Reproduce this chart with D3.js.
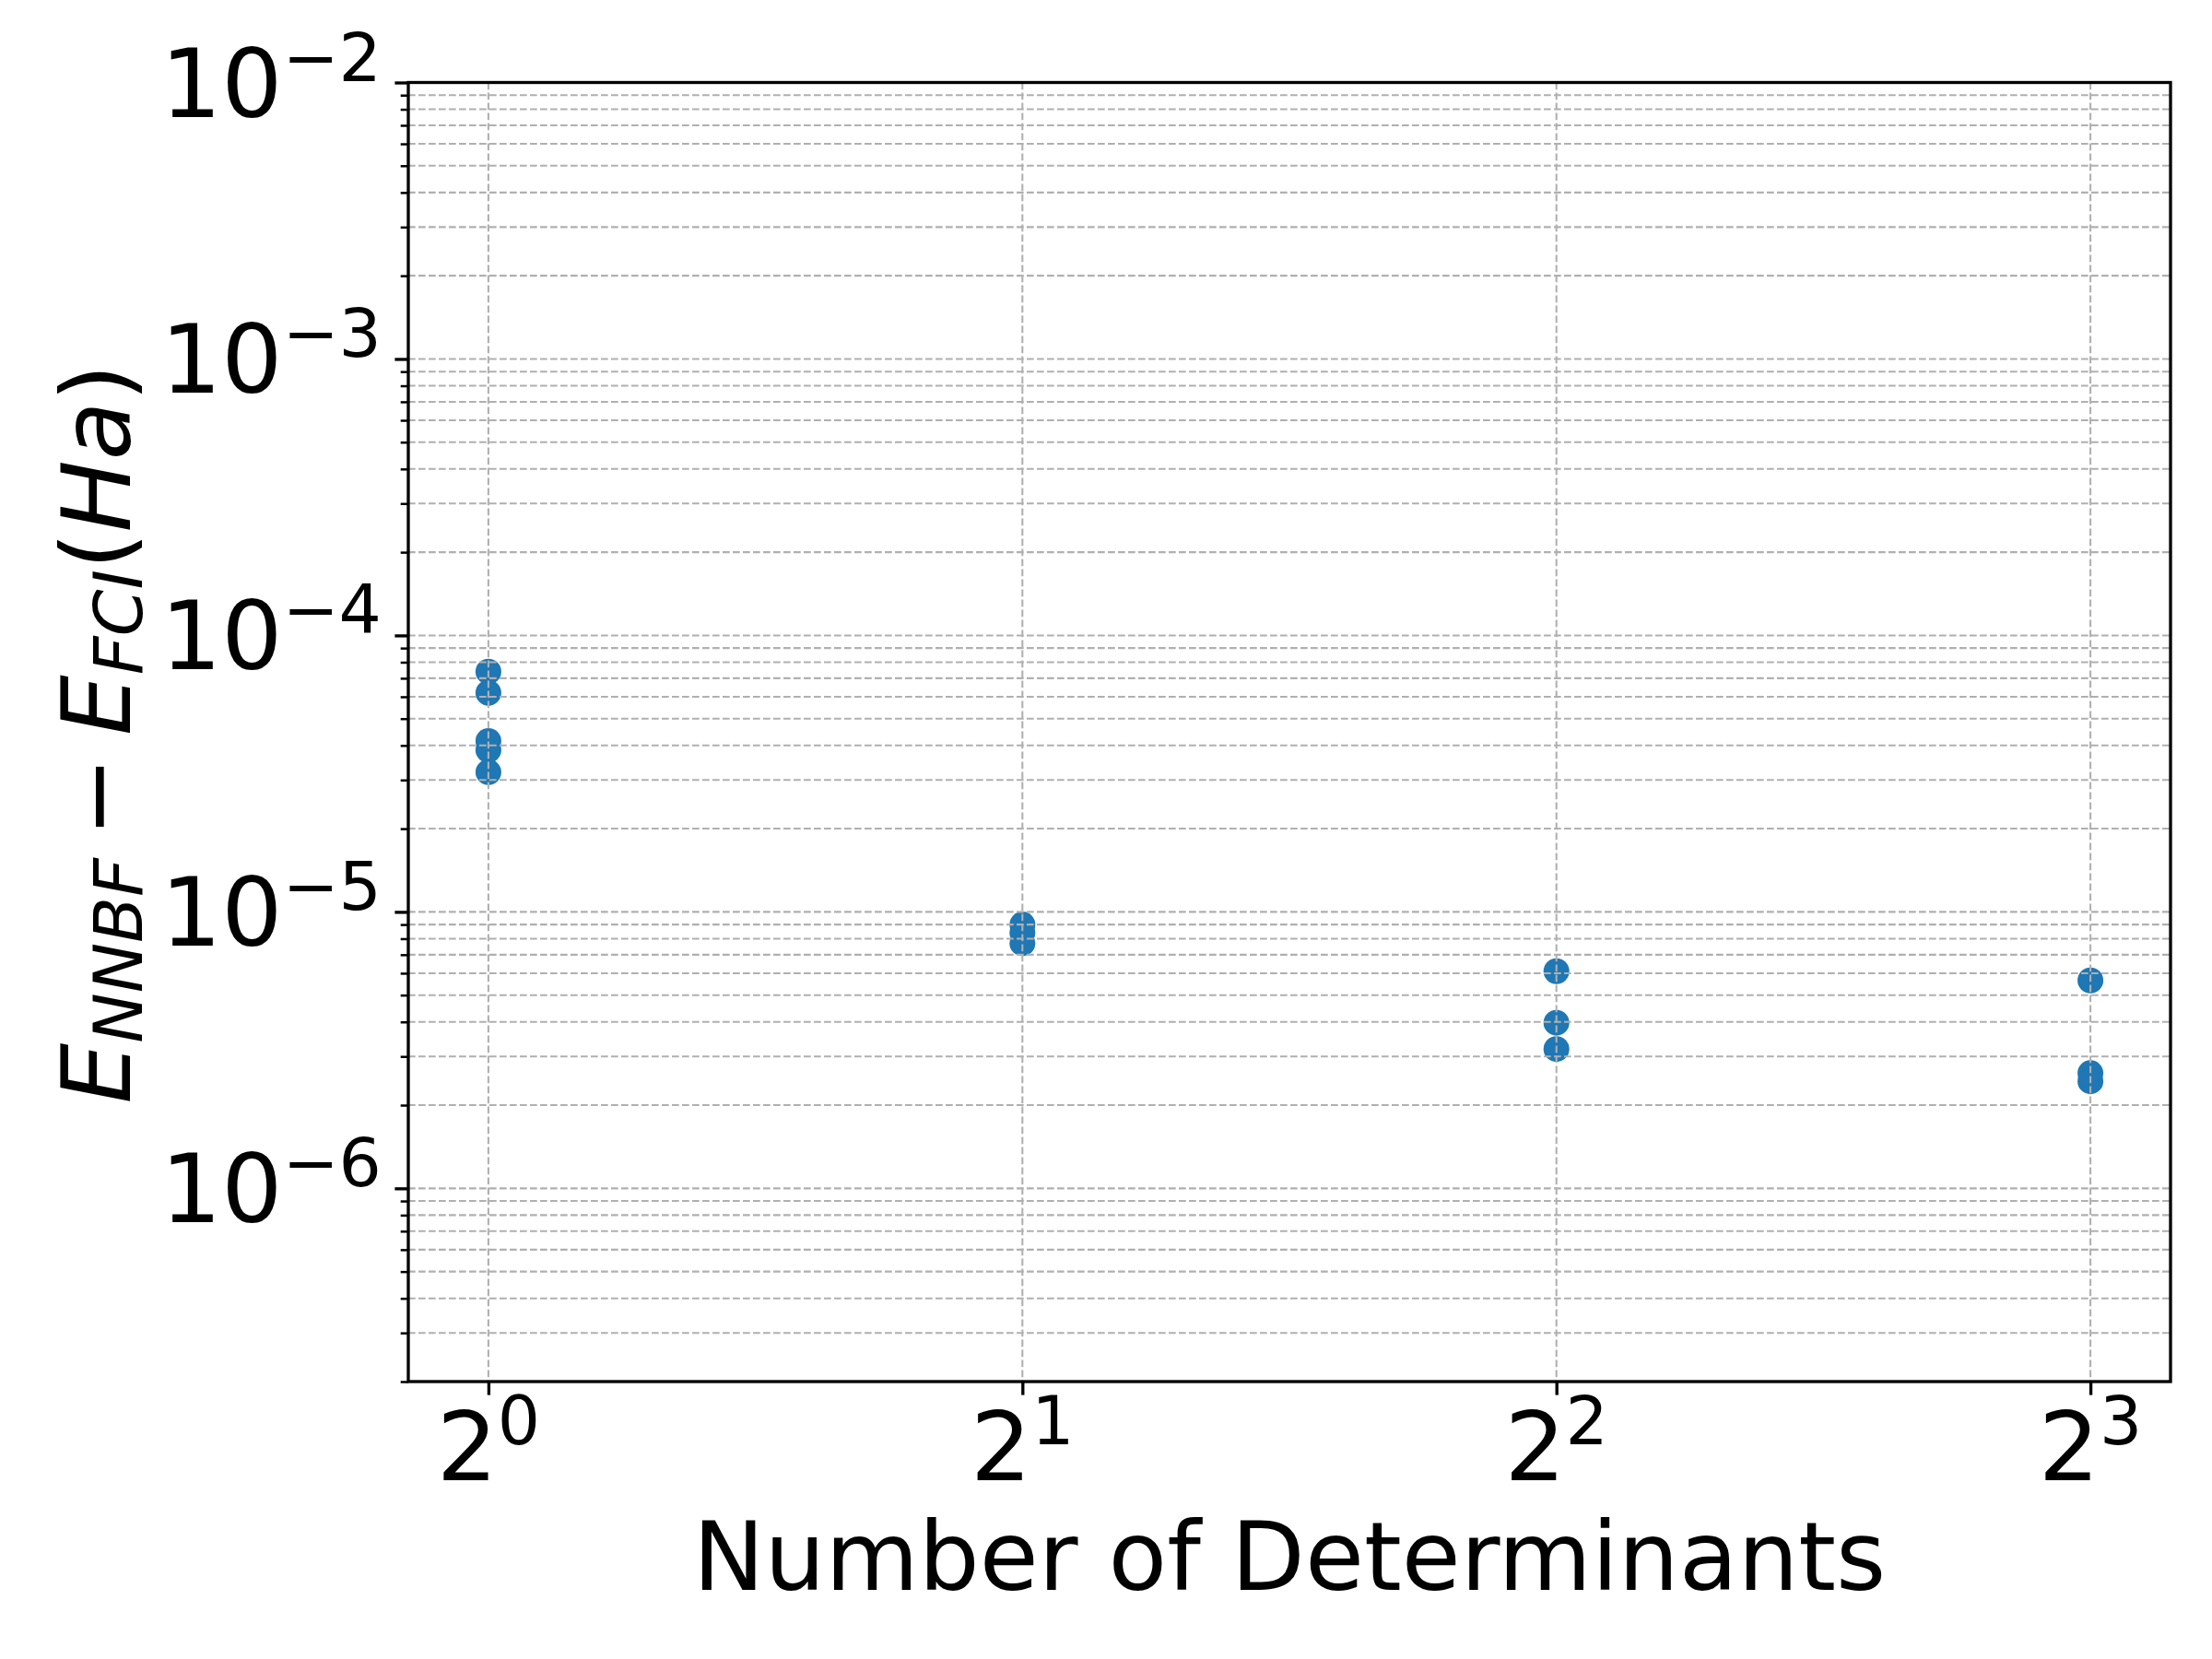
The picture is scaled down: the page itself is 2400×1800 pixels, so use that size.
<!DOCTYPE html>
<html>
<head>
<meta charset="utf-8">
<script src="https://cdn.jsdelivr.net/npm/d3@7"></script>
<style>
  html, body { margin: 0; padding: 0; background: #ffffff; }
  svg { display: block; }
  text { font-family: "DejaVu Sans", sans-serif; fill: #000; }
</style>
</head>
<body>
<div id="chart"></div>
<script>
// ---- data ----
const determinants = [1, 1, 1, 1, 1, 2, 2, 2, 4, 4, 4, 8, 8, 8];
const energyErrors = [7.4e-5, 6.2e-5, 4.15e-5, 3.85e-5, 3.2e-5,
                      9.0e-6, 8.4e-6, 7.7e-6,
                      6.1e-6, 3.97e-6, 3.19e-6,
                      5.65e-6, 2.61e-6, 2.44e-6];
const xTickExponents = [0, 1, 2, 3];
const yTickExponents = [-6, -5, -4, -3, -2];
const yDomain = [2e-7, 1e-2];
const xLabel = "Number of Determinants";

(function () {
// ---- layout ----
const W = 2400, H = 1800;
const pLeft = 443, pRight = 2355, pTop = 89.5, pBottom = 1499;
const fs = 104;          // 25pt at 300 dpi
const supFs = fs * 0.7;

const svg = d3.select("#chart").append("svg")
  .attr("width", W).attr("height", H)
  .attr("viewBox", `0 0 ${W} ${H}`);
svg.append("rect").attr("width", W).attr("height", H).attr("fill", "#fff");

const x = d3.scaleLog().base(2)
  .domain([Math.pow(2, -0.15), Math.pow(2, 3.15)])
  .range([pLeft, pRight]);
const y = d3.scaleLog().domain(yDomain).range([pBottom, pTop]);

const xMajor = xTickExponents.map(e => Math.pow(2, e));
const yMajor = yTickExponents.map(e => Math.pow(10, e));
const yMinor = [];
for (let k = -7; k <= -3; k++) {
  for (let m = 2; m <= 9; m++) {
    const v = m * Math.pow(10, k);
    if (v >= yDomain[0] * 0.999 && v <= yDomain[1] * 1.001) yMinor.push(v);
  }
}

// ---- scatter points ----
const pts = determinants.map((d, i) => ({ x: d, y: energyErrors[i] }));
svg.append("g").selectAll("circle").data(pts).enter().append("circle")
  .attr("cx", d => x(d.x))
  .attr("cy", d => y(d.y))
  .attr("r", 14)
  .attr("fill", "#1f77b4");

// ---- grid (drawn above the points, as in the reference) ----
const grid = svg.append("g")
  .attr("stroke", "#b0b0b0")
  .attr("stroke-width", 2.08)
  .attr("stroke-dasharray", "7.7,3.3")
  .attr("fill", "none");
grid.selectAll("line.hy").data(yMajor.concat(yMinor)).enter().append("line")
  .attr("x1", pLeft).attr("x2", pRight)
  .attr("y1", d => y(d)).attr("y2", d => y(d));
grid.selectAll("line.vx").data(xMajor).enter().append("line")
  .attr("y1", pTop).attr("y2", pBottom)
  .attr("x1", d => x(d)).attr("x2", d => x(d));

// ---- axes ticks via d3.axis ----
const majorLen = 14.6, minorLen = 8.3;
const yAxisMajor = d3.axisLeft(y).tickValues(yMajor).tickSize(majorLen).tickFormat("");
const yAxisMinor = d3.axisLeft(y).tickValues(yMinor).tickSize(minorLen).tickFormat("");
const xAxisMajor = d3.axisBottom(x).tickValues(xMajor).tickSize(majorLen).tickFormat("");

function styleAxis(g, w) {
  g.select(".domain").remove();
  g.selectAll(".tick line").attr("stroke", "#000").attr("stroke-width", w);
}
svg.append("g").attr("transform", `translate(${pLeft},0)`).call(yAxisMinor).call(g => styleAxis(g, 2.5));
svg.append("g").attr("transform", `translate(${pLeft},0)`).call(yAxisMajor).call(g => styleAxis(g, 3.33));
svg.append("g").attr("transform", `translate(0,${pBottom})`).call(xAxisMajor).call(g => styleAxis(g, 3.33));

// ---- spines ----
svg.append("rect")
  .attr("x", pLeft).attr("y", pTop)
  .attr("width", pRight - pLeft).attr("height", pBottom - pTop)
  .attr("fill", "none").attr("stroke", "#000").attr("stroke-width", 3.33);

// ---- tick labels (mathtext style) ----
const ylab = svg.append("g").selectAll("text").data(yTickExponents).enter().append("text")
  .attr("x", pLeft - majorLen - 14.6)
  .attr("y", d => y(Math.pow(10, d)) + 37)
  .attr("text-anchor", "end")
  .attr("font-size", fs);
ylab.append("tspan").text("10");
ylab.append("tspan").attr("font-size", supFs).attr("dy", -39)
  .text(d => "\u2212" + Math.abs(d));

const xlab = svg.append("g").selectAll("text").data(xTickExponents).enter().append("text")
  .attr("x", d => x(Math.pow(2, d)))
  .attr("y", 1606)
  .attr("text-anchor", "middle")
  .attr("font-size", fs);
xlab.append("tspan").text("2");
xlab.append("tspan").attr("font-size", supFs).attr("dy", -39).text(d => String(d));

// ---- axis titles ----
svg.append("text")
  .attr("x", (pLeft + pRight) / 2)
  .attr("y", 1725)
  .attr("text-anchor", "middle")
  .attr("font-size", fs)
  .text(xLabel);

const cy = (pTop + pBottom) / 2 + 2;
const yt = svg.append("text")
  .attr("transform", `translate(141,${cy}) rotate(-90)`)
  .attr("text-anchor", "middle")
  .attr("font-size", fs);
yt.append("tspan").attr("font-style", "italic").text("E");
yt.append("tspan").attr("font-style", "italic").attr("font-size", supFs).attr("dy", 13).text("NNBF");
yt.append("tspan").attr("dy", -13).attr("dx", 23).text("\u2212");
yt.append("tspan").attr("dx", 23).attr("font-style", "italic").text("E");
yt.append("tspan").attr("font-style", "italic").attr("font-size", supFs).attr("dy", 13).text("FCI");
yt.append("tspan").attr("dy", -13).text("(");
yt.append("tspan").attr("font-style", "italic").text("Ha");
yt.append("tspan").text(")");
})();
</script>
</body>
</html>
